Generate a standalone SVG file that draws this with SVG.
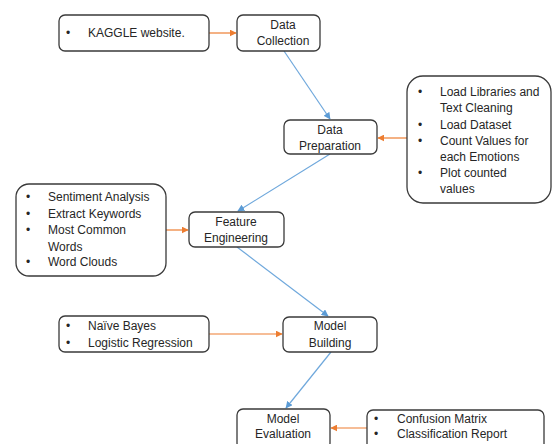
<svg xmlns="http://www.w3.org/2000/svg" width="552" height="444" viewBox="0 0 552 444">
<defs>
<style>
.box{fill:#fff;stroke:#3a3a3a;stroke-width:1.3}
text{font-family:"Liberation Sans",Arial,sans-serif;font-size:12px;fill:#262626}
.c{text-anchor:middle}
.blue{stroke:#6fa8dc;stroke-width:1.2;fill:none}
.orange{stroke:#ed7d31;stroke-width:1.2;fill:none}
</style>
<marker id="ab" viewBox="0 0 10 10" refX="9" refY="5" markerWidth="7" markerHeight="7" orient="auto" markerUnits="userSpaceOnUse"><path d="M0,0L10,5L0,10z" fill="#5b9bd5"/></marker>
<marker id="ao" viewBox="0 0 10 10" refX="9" refY="5" markerWidth="7" markerHeight="7" orient="auto" markerUnits="userSpaceOnUse"><path d="M0,0L10,5L0,10z" fill="#ed7d31"/></marker>
</defs>
<rect width="552" height="444" fill="#fff"/>
<g id="connectors">
<line class="orange" x1="209" y1="33" x2="236" y2="33" marker-end="url(#ao)"/>
<line class="blue" x1="284" y1="51" x2="330" y2="119" marker-end="url(#ab)"/>
<line class="orange" x1="407" y1="138" x2="378" y2="138" marker-end="url(#ao)"/>
<line class="blue" x1="330" y1="154" x2="238" y2="211" marker-end="url(#ab)"/>
<line class="orange" x1="166" y1="230" x2="188" y2="230" marker-end="url(#ao)"/>
<line class="blue" x1="237" y1="247" x2="328" y2="316" marker-end="url(#ab)"/>
<line class="orange" x1="209" y1="334" x2="282" y2="334" marker-end="url(#ao)"/>
<line class="blue" x1="331" y1="352" x2="286" y2="408" marker-end="url(#ab)"/>
<line class="orange" x1="367" y1="428" x2="331" y2="428" marker-end="url(#ao)"/>
</g>
<g id="kaggle">
<rect class="box" x="59" y="15" width="150" height="36" rx="6"/>
<text x="66" y="37">•</text><text x="88" y="37">KAGGLE website.</text>
</g>
<g id="data-collection">
<rect class="box" x="237" y="15" width="83" height="36" rx="6"/>
<text class="c" x="283" y="29">Data</text><text class="c" x="283" y="45">Collection</text>
</g>
<g id="data-preparation">
<rect class="box" x="284" y="120" width="93" height="34" rx="6"/>
<text class="c" x="330" y="134">Data</text><text class="c" x="330" y="150">Preparation</text>
</g>
<g id="prep-steps">
<rect class="box" x="407" y="76" width="144" height="127" rx="16"/>
<text x="418" y="96">•</text><text x="440" y="96">Load Libraries and</text>
<text x="440" y="112">Text Cleaning</text>
<text x="418" y="129">•</text><text x="440" y="129">Load Dataset</text>
<text x="418" y="145">•</text><text x="440" y="145">Count Values for</text>
<text x="440" y="161">each Emotions</text>
<text x="418" y="177">•</text><text x="440" y="177">Plot counted</text>
<text x="440" y="193">values</text>
</g>
<g id="feature-steps">
<rect class="box" x="16" y="184" width="150" height="92" rx="13"/>
<text x="26" y="201">•</text><text x="48" y="201">Sentiment Analysis</text>
<text x="26" y="218">•</text><text x="48" y="218">Extract Keywords</text>
<text x="26" y="234">•</text><text x="48" y="234">Most Common</text>
<text x="48" y="251">Words</text>
<text x="26" y="266">•</text><text x="48" y="266">Word Clouds</text>
</g>
<g id="feature-engineering">
<rect class="box" x="189" y="212" width="95" height="35" rx="6"/>
<text class="c" x="236" y="226">Feature</text><text class="c" x="236" y="242">Engineering</text>
</g>
<g id="models">
<rect class="box" x="59" y="316" width="150" height="36" rx="6"/>
<text x="66" y="330">•</text><text x="88" y="330">Naïve Bayes</text>
<text x="66" y="347">•</text><text x="88" y="347">Logistic Regression</text>
</g>
<g id="model-building">
<rect class="box" x="283" y="317" width="94" height="35" rx="6"/>
<text class="c" x="330" y="330">Model</text><text class="c" x="330" y="347">Building</text>
</g>
<g id="model-evaluation">
<rect class="box" x="237" y="409" width="93" height="40" rx="6"/>
<text class="c" x="283" y="423">Model</text><text class="c" x="283" y="438">Evaluation</text>
</g>
<g id="eval-steps">
<rect class="box" x="367" y="410" width="177" height="40" rx="6"/>
<text x="374" y="423">•</text><text x="397" y="423">Confusion Matrix</text>
<text x="374" y="438">•</text><text x="397" y="438">Classification Report</text>
</g>
</svg>
